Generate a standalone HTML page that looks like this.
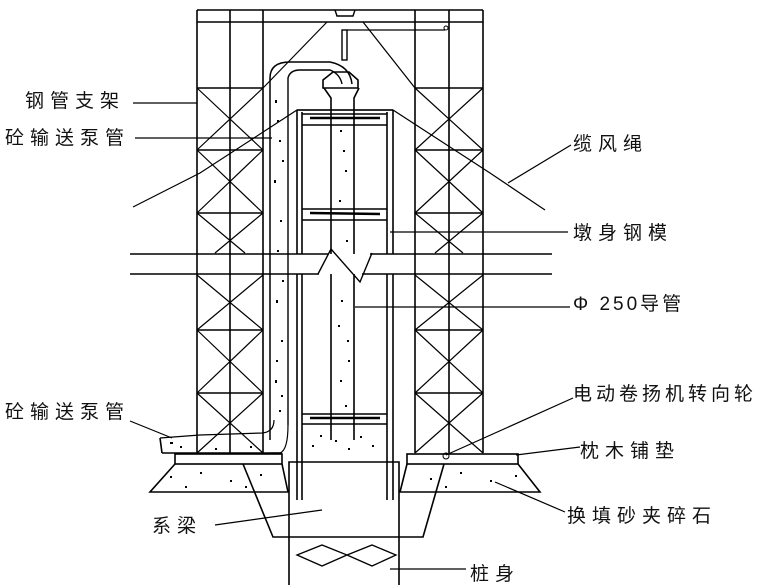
<!DOCTYPE html>
<html><head><meta charset="utf-8"><style>
html,body{margin:0;padding:0;background:#fff;width:780px;height:585px;overflow:hidden}
svg{display:block}
text{font-family:"Liberation Sans","Noto Sans CJK SC","WenQuanYi Zen Hei",sans-serif;font-size:19px;fill:#111;letter-spacing:6px}
</style></head><body>
<svg width="780" height="585" viewBox="0 0 780 585" xmlns="http://www.w3.org/2000/svg">
<g stroke="#000" stroke-width="1.6" fill="none">
<line x1="197" y1="10" x2="483" y2="10"/>
<line x1="197" y1="22" x2="483" y2="22"/>
<line x1="197" y1="10" x2="197" y2="453"/>
<line x1="230" y1="10" x2="230" y2="453"/>
<line x1="263" y1="10" x2="263" y2="453"/>
<line x1="415" y1="10" x2="415" y2="453"/>
<line x1="449" y1="10" x2="449" y2="453"/>
<line x1="483" y1="10" x2="483" y2="453"/>
<g>
<line x1="197" y1="88" x2="263" y2="88"/><line x1="415" y1="88" x2="483" y2="88"/>
<line x1="197" y1="150" x2="263" y2="150"/><line x1="415" y1="150" x2="483" y2="150"/>
<line x1="197" y1="213" x2="263" y2="213"/><line x1="415" y1="213" x2="483" y2="213"/>
<line x1="197" y1="330" x2="263" y2="330"/><line x1="415" y1="330" x2="483" y2="330"/>
<line x1="197" y1="393" x2="263" y2="393"/><line x1="415" y1="393" x2="483" y2="393"/>
</g>
<g stroke-width="1.2">
<path d="M197 88L263 150M263 88L197 150M197 150L263 213M263 150L197 213M197 213L245 253M263 213L215 253M197 275L263 330M263 275L197 330M197 330L263 393M263 330L197 393M197 393L263 453M263 393L197 453"/>
<path d="M415 88L483 150M483 88L415 150M415 150L483 213M483 150L415 213M415 213L463 253M483 213L435 253M415 275L483 330M483 275L415 330M415 330L483 393M483 330L415 393M415 393L483 453M483 393L415 453"/>
</g>
<path d="M335 10 L337 16 L353 16 L355 10" stroke-width="1.4"/>
<line x1="327" y1="22" x2="263" y2="88" stroke-width="1.2"/>
<line x1="363" y1="22" x2="415" y2="88" stroke-width="1.2"/>
<rect x="342" y="30" width="5" height="30" stroke-width="1.4"/>
<line x1="347" y1="30" x2="445" y2="30" stroke-width="1.2"/>
<circle cx="446" cy="28" r="2" stroke-width="1"/>
<polyline points="133,207 200,173 297,110 393,110 490,173 545,210" stroke-width="1.2"/>
<!-- band with break -->
<line x1="130" y1="254" x2="328" y2="254"/>
<line x1="130" y1="274" x2="319" y2="274"/>
<line x1="370" y1="254" x2="552" y2="254"/>
<line x1="362" y1="274" x2="552" y2="274"/>
<path d="M318 274 L331 249 L360 282 L372 253" stroke-width="1.4"/>
<!-- pier -->
<line x1="297" y1="110" x2="393" y2="110"/>
<line x1="297" y1="110" x2="297" y2="254"/><line x1="393" y1="110" x2="393" y2="254"/>
<line x1="297" y1="274" x2="297" y2="500"/><line x1="393" y1="274" x2="393" y2="500"/>
<line x1="302" y1="112" x2="302" y2="254"/><line x1="387" y1="112" x2="387" y2="254"/>
<line x1="302" y1="274" x2="302" y2="500"/><line x1="387" y1="274" x2="387" y2="500"/>
<line x1="302" y1="114" x2="387" y2="114"/>
<line x1="302" y1="125" x2="387" y2="125"/>
<line x1="310" y1="118" x2="380" y2="118" stroke-width="2.5"/>
<line x1="302" y1="209" x2="387" y2="209"/><line x1="302" y1="220" x2="387" y2="220"/>
<line x1="310" y1="213" x2="380" y2="214" stroke-width="2.5"/>
<line x1="302" y1="414" x2="387" y2="414"/><line x1="302" y1="424" x2="387" y2="424"/>
<line x1="310" y1="418" x2="380" y2="418" stroke-width="2.5"/>
<path d="M324 88 L331 98 L331 254 M359 88 L354 98 L354 254 M331 274 L331 440 M354 274 L354 440"/>
<path d="M323 88 L358 88 L358 80 L349 72 L333 72 L323 80 Z"/>
<path d="M270 440 L270 78 Q270 62 290 62 L330 62 Q350 66 352 84" stroke-width="1.5"/>
<path d="M288 425 L288 78 Q290 70 300 70 L330 70 Q340 74 342 84" stroke-width="1.4"/>
<path d="M160 438 L200 435 L262 433 Q274 432 274 420" stroke-width="1.2"/>
<path d="M270 453 L280 453 Q288 450 288 425" stroke-width="1.2"/>
<rect x="175" y="454" width="107" height="10"/>
<rect x="407" y="454" width="111" height="10"/>
<path d="M175 464 L150 492 L288 492 L282 464"/>
<path d="M407 464 L400 492 L540 492 L518 464"/>
<path d="M162 453 L160 438"/>
<line x1="162" y1="453" x2="282" y2="453"/>
<path d="M243 464 L273 537 L423 537 L444 464"/>
<path d="M289 585 L289 462 L399 462 L399 585"/>
<path d="M297 555 L322 545 L347 555 L322 566 Z M347 555 L372 545 L396 555 L372 566 Z" stroke-width="1.3"/>
<circle cx="446" cy="456" r="3" stroke-width="1"/>
<g stroke-width="1.2">
<line x1="133" y1="103" x2="197" y2="103"/>
<line x1="135" y1="138" x2="272" y2="138"/>
<line x1="130" y1="421" x2="172" y2="438"/>
<line x1="571" y1="145" x2="508" y2="183"/>
<line x1="390" y1="232" x2="568" y2="232"/>
<line x1="355" y1="307" x2="570" y2="307"/>
<line x1="573" y1="398" x2="446" y2="455"/>
<line x1="580" y1="447" x2="516" y2="455"/>
<line x1="565" y1="512" x2="495" y2="482"/>
<line x1="390" y1="569" x2="466" y2="569"/>
<line x1="215" y1="525" x2="322" y2="510"/>
</g>
</g>
<g fill="#000">
<rect x="275" y="100" width="2" height="3"/><rect x="279" y="140" width="2" height="2"/><rect x="274" y="180" width="2" height="3"/><rect x="280" y="220" width="2" height="2"/><rect x="276" y="300" width="2" height="3"/><rect x="281" y="340" width="2" height="2"/><rect x="275" y="380" width="2" height="3"/><rect x="279" y="410" width="2" height="2"/>
<rect x="277" y="120" width="2" height="2"/><rect x="282" y="160" width="2" height="2"/><rect x="277" y="250" width="2" height="2"/><rect x="282" y="280" width="2" height="2"/><rect x="276" y="360" width="2" height="2"/><rect x="281" y="395" width="2" height="2"/>
<rect x="340" y="130" width="2" height="2"/><rect x="345" y="170" width="2" height="2"/><rect x="339" y="200" width="2" height="2"/><rect x="346" y="240" width="2" height="2"/><rect x="341" y="300" width="2" height="2"/><rect x="347" y="340" width="2" height="2"/><rect x="340" y="380" width="2" height="2"/><rect x="345" y="405" width="2" height="2"/>
<rect x="343" y="150" width="2" height="2"/><rect x="338" y="325" width="2" height="2"/><rect x="348" y="360" width="2" height="2"/>
<rect x="320" y="435" width="2" height="2"/><rect x="335" y="440" width="2" height="2"/><rect x="360" y="436" width="2" height="2"/><rect x="372" y="445" width="2" height="2"/><rect x="312" y="445" width="2" height="2"/><rect x="348" y="448" width="2" height="2"/>
<rect x="170" y="476" width="2" height="2"/><rect x="200" y="472" width="2" height="2"/><rect x="230" y="480" width="2" height="2"/><rect x="260" y="474" width="2" height="2"/><rect x="185" y="486" width="2" height="2"/><rect x="245" y="486" width="2" height="2"/>
<rect x="430" y="478" width="2" height="2"/><rect x="460" y="472" width="2" height="2"/><rect x="490" y="480" width="2" height="2"/><rect x="515" y="475" width="2" height="2"/><rect x="445" y="486" width="2" height="2"/>
<rect x="180" y="446" width="2" height="2"/><rect x="215" y="448" width="2" height="2"/><rect x="250" y="446" width="2" height="2"/><rect x="170" y="442" width="3" height="2"/>
</g>
<text x="25" y="107">钢管支架</text>
<text x="5" y="144">砼输送泵管</text>
<text x="5" y="418">砼输送泵管</text>
<text x="152" y="532">系梁</text>
<text x="573" y="150">缆风绳</text>
<text x="573" y="239">墩身钢模</text>
<text x="573" y="310" style="letter-spacing:3px">Φ 250导管</text>
<text x="573" y="400" style="letter-spacing:4px">电动卷扬机转向轮</text>
<text x="580" y="457">枕木铺垫</text>
<text x="567" y="522">换填砂夹碎石</text>
<text x="470" y="580">桩身</text>
</svg>
</body></html>
